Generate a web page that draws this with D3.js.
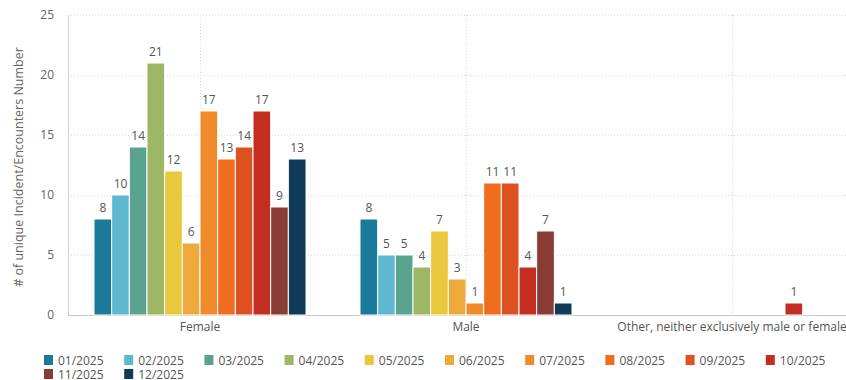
<!DOCTYPE html>
<html><head><meta charset="utf-8">
<script src="https://cdn.jsdelivr.net/npm/d3@7"></script>
<style>body{margin:0;background:#fff;} svg{display:block;font-family:"Open Sans",sans-serif;}</style>
</head><body>
<svg id="c" width="846" height="380"></svg>
<script>
const categories = ["Female", "Male", "Other, neither exclusively male or female"];
const months = ["01/2025","02/2025","03/2025","04/2025","05/2025","06/2025","07/2025","08/2025","09/2025","10/2025","11/2025","12/2025"];
const colors = ["#1A7A9C","#5EB8D0","#5AA38E","#9DB766","#EAC83E","#EDA93A","#F08B2C","#F06C1F","#DD5120","#C42E20","#8A3B33","#0F3B56"];
const female = [8,10,14,21,12,6,17,13,14,17,9,13];
const male   = [8,5,5,4,7,3,1,11,11,4,7,1];
const other  = [null,null,null,null,null,null,null,null,null,1,null,null];
const yTicks = [0,5,10,15,20,25];
const yTitle = "# of unique Incident/Encounters Number";

const svg = d3.select("#c");
const plotL = 68, plotR = 846, plotT = 15, plotB = 315;
const y = d3.scaleLinear().domain([0,25]).range([plotB, plotT]);
const x = d3.scaleBand().domain(categories).range([67, 865]);
const groupW = 212;
const xs = d3.scaleBand().domain(months).range([-groupW/2, groupW/2]);

// grid
svg.append("g").selectAll("line").data(yTicks.filter(d=>d>0)).join("line")
  .attr("x1", plotL).attr("x2", plotR).attr("y1", d=>y(d)+0.5).attr("y2", d=>y(d)+0.5)
  .attr("stroke","#d8d8d8").attr("stroke-dasharray","1,2");
svg.append("g").selectAll("line").data(categories).join("line")
  .attr("x1", d=>Math.round(x(d)+x.bandwidth()/2)+0.5).attr("x2", d=>Math.round(x(d)+x.bandwidth()/2)+0.5)
  .attr("y1", plotT).attr("y2", plotB)
  .attr("stroke","#d8d8d8").attr("stroke-dasharray","1,2");

// axes lines
svg.append("line").attr("x1", plotL+0.5).attr("x2", plotL+0.5).attr("y1", plotT).attr("y2", plotB)
  .attr("stroke","#d0d0d0");
svg.append("line").attr("x1", plotL).attr("x2", plotR).attr("y1", plotB+0.5).attr("y2", plotB+0.5)
  .attr("stroke","#c8c8c8");

// y ticks
svg.append("g").selectAll("text").data(yTicks).join("text")
  .attr("x", 54).attr("y", d=>y(d)).attr("dy","0.35em").attr("text-anchor","end")
  .attr("font-size", 12).attr("fill","#666").text(d=>d);
svg.append("text").attr("transform", `translate(23,167) rotate(-90)`)
  .attr("text-anchor","middle").attr("font-size", 12.5).attr("fill","#666").text(yTitle);

// x labels
svg.append("g").selectAll("text").data(categories).join("text")
  .attr("x", d=>x(d)+x.bandwidth()/2).attr("y", 331).attr("text-anchor","middle")
  .attr("font-size", 12).attr("fill","#555").text(d=>d);

// bars
const seriesByCat = [female, male, other];
const bars = [];
categories.forEach((c,ci)=>{
  months.forEach((m,mi)=>{
    const v = seriesByCat[ci][mi];
    if (v !== null && v !== undefined) bars.push({c, m, v, color: colors[mi]});
  });
});
const bg = svg.append("g");
bg.selectAll("rect").data(bars).join("rect")
  .attr("x", d=>x(d.c)+x.bandwidth()/2+xs(d.m))
  .attr("y", d=>y(d.v))
  .attr("width", xs.bandwidth())
  .attr("height", d=>y(0)-y(d.v))
  .attr("fill", d=>d.color).attr("stroke","#fff").attr("stroke-width",1);
bg.selectAll("text").data(bars).join("text")
  .attr("x", d=>x(d.c)+x.bandwidth()/2+xs(d.m)+xs.bandwidth()/2)
  .attr("y", d=>y(d.v)-7).attr("text-anchor","middle")
  .attr("font-size", 12).attr("fill","#555").text(d=>d.v);

// legend
const lg = svg.append("g");
months.forEach((m,i)=>{
  const row = i < 10 ? 0 : 1;
  const col = i < 10 ? i : i-10;
  const lx = 44 + col*80.2, ly = 355 + row*14;
  lg.append("rect").attr("x", lx).attr("y", ly).attr("width", 9).attr("height", 10).attr("fill", colors[i]);
  lg.append("text").attr("x", lx+14).attr("y", ly+9.5).attr("font-size", 12).attr("fill","#555").text(m);
});
</script>
</body></html>
